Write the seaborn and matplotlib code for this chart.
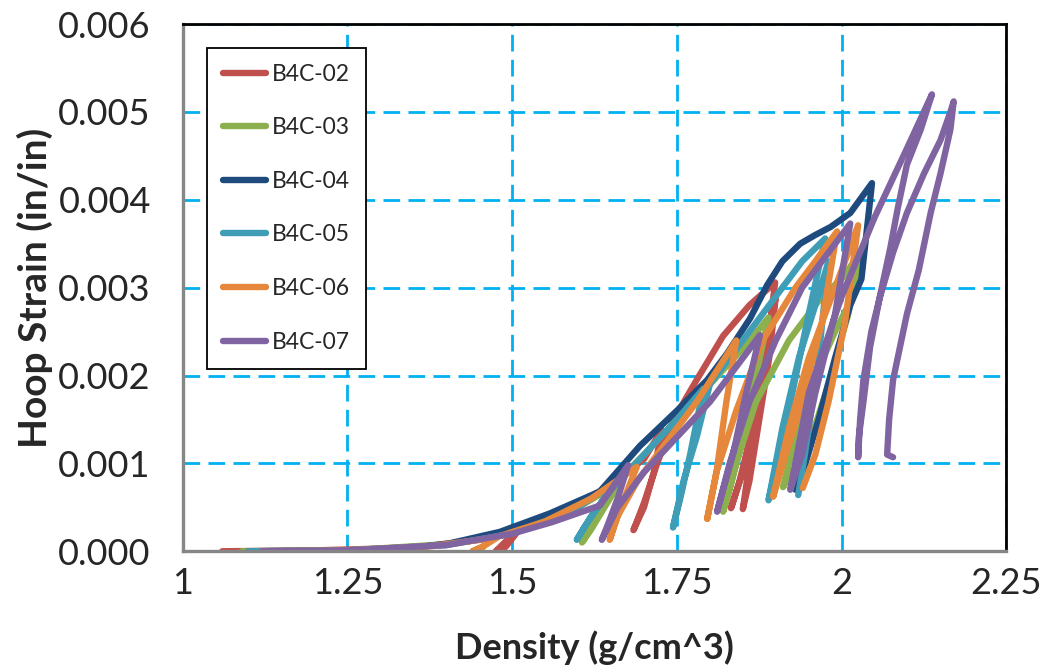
import matplotlib
matplotlib.use("Agg")
import matplotlib.pyplot as plt
import numpy as np
import pandas as pd
import seaborn as sns

SERIES = ["B4C-02", "B4C-03", "B4C-04", "B4C-05", "B4C-06", "B4C-07"]
COLORS = ["#C0504D", "#8DB04F", "#1F4A7D", "#3F9DB6", "#E5883B", "#8064A2"]

# density (g/cm^3) and hoop strain (in/in), in load order
b4c02_density = [1.06, 1.20, 1.35, 1.45, 1.505, 1.475, 1.49, 1.51, 1.55, 1.60, 1.65, 1.70, 1.727,
                 1.715, 1.70, 1.684, 1.70, 1.72, 1.745, 1.78, 1.82, 1.86, 1.899,
                 1.89, 1.875, 1.86, 1.85, 1.86, 1.875, 1.89, 1.90, 1.885, 1.865, 1.845, 1.832,
                 1.85, 1.87, 1.885, 1.898]
b4c02_strain = [0.0, 0.00001, 0.00004, 0.00013, 0.00022, 0.0, 0.00005, 0.00024, 0.00038, 0.00054, 0.00076, 0.00105, 0.00138,
                0.0009, 0.0005, 0.00024, 0.00055, 0.0010, 0.0015, 0.00195, 0.00245, 0.0028, 0.00306,
                0.0025, 0.0017, 0.0010, 0.00048, 0.0008, 0.0015, 0.0022, 0.0029, 0.0022, 0.0014, 0.0008, 0.00049,
                0.0009, 0.0016, 0.0023, 0.0029]

b4c03_density = [1.09, 1.25, 1.40, 1.50, 1.55, 1.60, 1.645, 1.665,
                 1.64, 1.62, 1.606, 1.63, 1.66, 1.70, 1.75, 1.80, 1.861, 1.889,
                 1.87, 1.85, 1.83, 1.82, 1.84, 1.87, 1.92, 1.97, 2.00, 2.028,
                 2.01, 1.98, 1.95, 1.925, 1.911, 1.93, 1.96, 1.99, 2.01, 2.025]
b4c03_strain = [0.0, 0.00001, 0.00008, 0.00022, 0.00035, 0.0005, 0.0007, 0.0008,
                0.0005, 0.00025, 0.0001, 0.0004, 0.0008, 0.0011, 0.0015, 0.0019, 0.0024, 0.00266,
                0.0020, 0.0013, 0.0007, 0.00045, 0.0010, 0.0017, 0.0024, 0.0029, 0.0031, 0.0034,
                0.0027, 0.0019, 0.0012, 0.0009, 0.00073, 0.0013, 0.0020, 0.0025, 0.0028, 0.0031]

b4c04_density = [1.10, 1.25, 1.35, 1.405, 1.481, 1.557, 1.633, 1.694, 1.75, 1.796, 1.826, 1.861, 1.887,
                 1.91, 1.937, 1.96, 1.983, 2.013, 2.046, 2.03, 2.013, 1.99, 1.965, 1.945, 1.93]
b4c04_strain = [0.0, 0.00001, 0.00004, 0.00009, 0.00022, 0.00043, 0.00068, 0.0012, 0.0016, 0.00195, 0.00225, 0.00265, 0.00303,
                0.0033, 0.0035, 0.0036, 0.00369, 0.00385, 0.00419, 0.0031, 0.0028, 0.0022, 0.0015, 0.0010, 0.0007]

b4c05_density = [1.10, 1.25, 1.40, 1.50, 1.55, 1.60, 1.64, 1.655,
                 1.63, 1.61, 1.598, 1.62, 1.65, 1.70, 1.75, 1.79,
                 1.77, 1.755, 1.744, 1.76, 1.78, 1.80, 1.85, 1.90, 1.94, 1.975,
                 1.95, 1.925, 1.905, 1.889, 1.91, 1.935, 1.96, 1.98,
                 1.965, 1.95, 1.94, 1.934]
b4c05_strain = [0.0, 0.00001, 0.00007, 0.0002, 0.00034, 0.0005, 0.0007, 0.00078,
                0.0005, 0.00028, 0.00013, 0.0004, 0.0007, 0.0011, 0.0015, 0.00185,
                0.0011, 0.0006, 0.00027, 0.0008, 0.0013, 0.0019, 0.0024, 0.0029, 0.0033, 0.00356,
                0.0027, 0.0018, 0.0011, 0.00058, 0.0014, 0.0022, 0.0028, 0.0033,
                0.0022, 0.0014, 0.0009, 0.00064]

b4c06_density = [1.12, 1.25, 1.38, 1.47, 1.455, 1.44, 1.455, 1.48, 1.55, 1.62, 1.689,
                 1.67, 1.655, 1.648, 1.66, 1.69, 1.73, 1.78, 1.84,
                 1.825, 1.81, 1.796, 1.81, 1.84, 1.88, 1.93, 1.96, 1.993,
                 1.97, 1.94, 1.915, 1.896, 1.92, 1.95, 1.98, 2.005, 2.025,
                 2.005, 1.98, 1.96, 1.941]
b4c06_strain = [0.0, 0.00001, 0.00006, 0.00015, 0.00005, 0.0, 0.00005, 0.00017, 0.00034, 0.0006, 0.00096,
                0.0006, 0.0003, 0.00013, 0.0004, 0.0008, 0.0012, 0.0017, 0.0024,
                0.0017, 0.0009, 0.00037, 0.0009, 0.0016, 0.0024, 0.0030, 0.0033, 0.00364,
                0.0026, 0.0017, 0.0011, 0.00062, 0.0014, 0.0022, 0.0028, 0.0033, 0.00371,
                0.0026, 0.0017, 0.0011, 0.00072]

b4c07_density = [1.12, 1.25, 1.40, 1.50, 1.56, 1.633, 1.676,
                 1.66, 1.645, 1.636, 1.66, 1.70, 1.75, 1.80, 1.84, 1.876,
                 1.855, 1.835, 1.82, 1.811, 1.83, 1.86, 1.90, 1.94, 1.98, 2.013,
                 1.99, 1.96, 1.94, 1.922, 1.95, 2.0, 2.05, 2.10, 2.137,
                 2.12, 2.099, 2.085, 2.074, 2.058, 2.043, 2.033, 2.026, 2.025,
                 2.028, 2.033, 2.045, 2.058, 2.078, 2.099, 2.125, 2.15, 2.165, 2.170,
                 2.165, 2.15, 2.135, 2.117, 2.099, 2.085, 2.078, 2.072, 2.069, 2.078]
b4c07_strain = [0.0, 0.00001, 0.00007, 0.0002, 0.00033, 0.00052, 0.00098,
                0.0006, 0.0003, 0.00013, 0.0005, 0.0009, 0.0013, 0.0017, 0.0021, 0.00246,
                0.0018, 0.0011, 0.0007, 0.00045, 0.0010, 0.0017, 0.0024, 0.0030, 0.0034, 0.00373,
                0.0027, 0.0018, 0.0011, 0.0007, 0.0018, 0.0029, 0.0038, 0.0046, 0.0052,
                0.0048, 0.0044, 0.0039, 0.00346, 0.0029, 0.00232, 0.0017, 0.0013, 0.00107,
                0.0015, 0.00195, 0.0025, 0.00289, 0.0034, 0.00385, 0.0043, 0.00468, 0.0050, 0.00512,
                0.0048, 0.0043, 0.00385, 0.0032, 0.0027, 0.0022, 0.00195, 0.0015, 0.0011, 0.00107]

X_TICKS = [1, 1.25, 1.5, 1.75, 2, 2.25]
X_TICK_LABELS = ["1", "1.25", "1.5", "1.75", "2", "2.25"]
Y_TICKS = [0, 0.001, 0.002, 0.003, 0.004, 0.005, 0.006]
Y_TICK_LABELS = ["0.000", "0.001", "0.002", "0.003", "0.004", "0.005", "0.006"]

densities = [b4c02_density, b4c03_density, b4c04_density, b4c05_density, b4c06_density, b4c07_density]
strains = [b4c02_strain, b4c03_strain, b4c04_strain, b4c05_strain, b4c06_strain, b4c07_strain]

frames = []
for name, d, s in zip(SERIES, densities, strains):
    frames.append(pd.DataFrame({"series": name, "density": d, "strain": s,
                                "step": np.arange(len(d))}))
df = pd.concat(frames, ignore_index=True)

sns.set_theme(style="white")
plt.rcParams["font.family"] = ["Lato", "DejaVu Sans"]

fig = plt.figure(figsize=(10.44, 6.69), dpi=100)
ax = fig.add_axes([0.175, 0.176, 0.789, 0.788])

sns.lineplot(data=df, x="density", y="strain", hue="series", hue_order=SERIES,
             palette=COLORS, sort=False, estimator=None, units="series",
             lw=4.6, ax=ax, solid_capstyle="round", solid_joinstyle="round")

ax.set_xlim(1, 2.25)
ax.set_ylim(0, 0.006)
ax.set_xticks(X_TICKS, X_TICK_LABELS)
ax.set_yticks(Y_TICKS, Y_TICK_LABELS)
ax.tick_params(axis="both", labelsize=26, length=6, width=1.3, color="#868686",
               direction="out")
ax.tick_params(axis="y", pad=17)
ax.tick_params(axis="x", pad=5)
ax.grid(True, color="#00B0F0", ls=(0, (6, 3)), lw=2)
ax.set_axisbelow(True)
for side in ["left", "bottom"]:
    ax.spines[side].set_color("#868686")
    ax.spines[side].set_linewidth(2.4)
for side in ["right", "top"]:
    ax.spines[side].set_color("black")
    ax.spines[side].set_linewidth(2)

ax.set_xlabel("Density (g/cm^3)", fontsize=26, fontweight="bold", labelpad=22)
ax.set_ylabel("Hoop Strain (in/in)", fontsize=28, fontweight="bold", labelpad=4)

leg = ax.legend(loc="upper left", bbox_to_anchor=(0.029, 0.955), borderaxespad=0,
                fontsize=16.5, frameon=True, fancybox=False, edgecolor="black",
                framealpha=1, handlelength=1.9, handletextpad=0.25, labelspacing=1.42,
                borderpad=0.7, title=None)
leg.get_frame().set_linewidth(1.3)
for line in leg.get_lines():
    line.set_linewidth(4.6)

fig.savefig("out.png", dpi=100)
